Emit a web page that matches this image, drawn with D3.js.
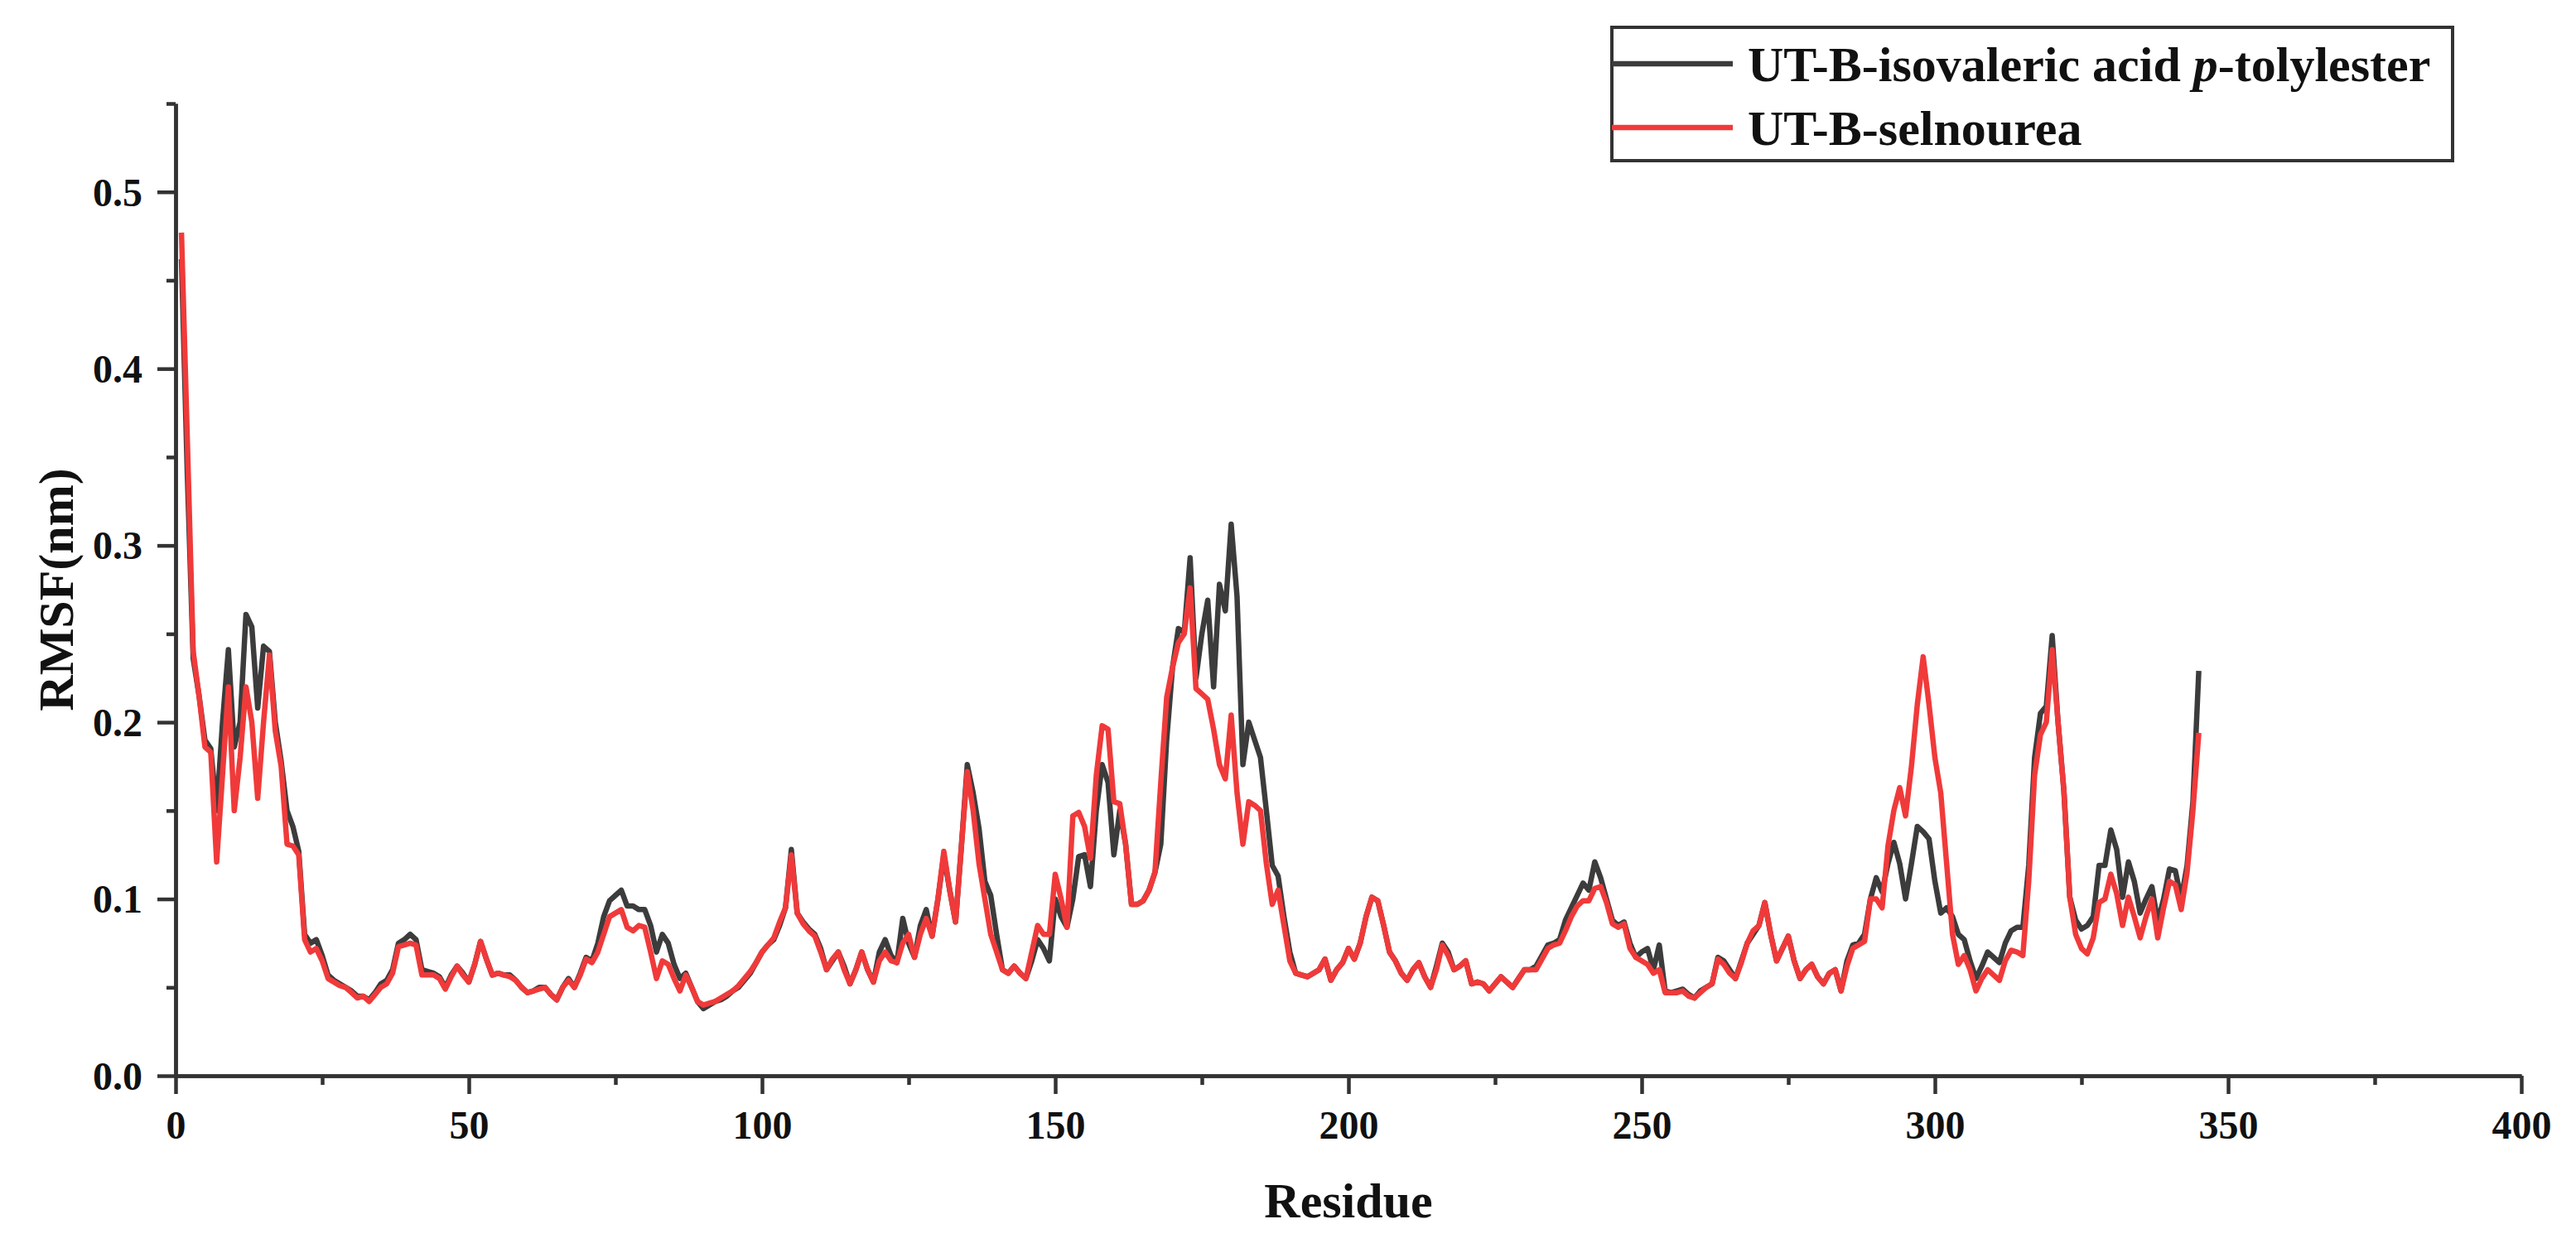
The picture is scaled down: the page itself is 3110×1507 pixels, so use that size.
<!DOCTYPE html>
<html>
<head>
<meta charset="utf-8">
<script src="https://cdn.jsdelivr.net/npm/d3@7"></script>
<style>
html, body { margin: 0; padding: 0; background: #fff; }
svg { display: block; }
text { font-family: "Liberation Serif", "Times New Roman", serif; font-weight: bold; fill: #111; }
</style>
</head>
<body>
<svg id="chart" width="3110" height="1507"></svg>
<script>
// ---- data ----
const seriesNames = ["UT-B-isovaleric acid p-tolylester", "UT-B-selnourea"];
const xTicksMajor = [0, 50, 100, 150, 200, 250, 300, 350, 400];
const xTicksMinor = [25, 75, 125, 175, 225, 275, 325, 375];
const yTicksMajor = [0.0, 0.1, 0.2, 0.3, 0.4, 0.5];
const yTicksMinor = [0.05, 0.15, 0.25, 0.35, 0.45, 0.55];
const yTickLabels = ["0.0", "0.1", "0.2", "0.3", "0.4", "0.5"];

const blackValues = [
0.462,0.34,0.236,0.215,0.19,0.185,0.15,0.2,0.241,0.186,
0.2,0.261,0.254,0.208,0.243,0.24,0.2,0.178,0.15,0.141,
0.127,0.08,0.075,0.077,0.068,0.057,0.054,0.052,0.05,0.048,
0.045,0.045,0.043,0.047,0.052,0.054,0.06,0.075,0.077,0.08,
0.077,0.06,0.059,0.058,0.056,0.05,0.057,0.062,0.058,0.053,
0.063,0.076,0.066,0.057,0.058,0.057,0.057,0.054,0.05,0.047,
0.048,0.05,0.05,0.046,0.043,0.05,0.055,0.05,0.058,0.067,
0.065,0.075,0.09,0.099,0.102,0.105,0.096,0.096,0.094,0.094,
0.085,0.07,0.08,0.075,0.063,0.055,0.058,0.05,0.042,0.038,
0.04,0.042,0.043,0.045,0.048,0.05,0.054,0.058,0.064,0.07,
0.074,0.077,0.085,0.095,0.128,0.092,0.087,0.083,0.08,0.072,
0.06,0.065,0.07,0.062,0.052,0.06,0.07,0.06,0.053,0.07,
0.077,0.068,0.064,0.089,0.075,0.067,0.085,0.094,0.079,0.1,
0.125,0.105,0.087,0.13,0.176,0.16,0.14,0.11,0.102,0.08,
0.06,0.058,0.062,0.058,0.055,0.065,0.077,0.072,0.065,0.1,
0.09,0.084,0.1,0.124,0.125,0.107,0.15,0.176,0.166,0.125,
0.15,0.131,0.097,0.097,0.099,0.105,0.115,0.131,0.19,0.231,
0.253,0.251,0.293,0.225,0.25,0.269,0.22,0.278,0.263,0.312,
0.271,0.176,0.2,0.19,0.18,0.15,0.119,0.113,0.09,0.07,
0.058,0.057,0.056,0.058,0.06,0.066,0.054,0.06,0.064,0.072,
0.066,0.075,0.09,0.101,0.099,0.085,0.07,0.065,0.058,0.054,
0.06,0.064,0.056,0.05,0.062,0.075,0.07,0.06,0.062,0.065,
0.052,0.053,0.052,0.048,0.052,0.056,0.053,0.05,0.055,0.06,
0.06,0.062,0.068,0.074,0.075,0.077,0.088,0.095,0.102,0.109,
0.105,0.121,0.112,0.1,0.088,0.085,0.087,0.075,0.067,0.07,
0.072,0.06,0.074,0.048,0.047,0.048,0.049,0.046,0.044,0.048,
0.05,0.052,0.067,0.065,0.06,0.055,0.065,0.075,0.08,0.085,
0.098,0.08,0.065,0.072,0.079,0.065,0.055,0.06,0.063,0.056,
0.052,0.058,0.06,0.048,0.065,0.074,0.075,0.08,0.1,0.112,
0.104,0.12,0.132,0.12,0.1,0.12,0.141,0.138,0.134,0.11,
0.092,0.095,0.09,0.08,0.077,0.065,0.055,0.062,0.07,0.067,
0.064,0.075,0.082,0.084,0.084,0.119,0.18,0.205,0.209,0.249,
0.2,0.161,0.101,0.088,0.083,0.085,0.09,0.119,0.119,0.139,
0.128,0.101,0.121,0.11,0.092,0.1,0.107,0.087,0.1,0.117,
0.116,0.1,0.119,0.155,0.229
];

const redValues = [
0.477,0.36,0.24,0.215,0.186,0.183,0.121,0.17,0.22,0.15,
0.18,0.22,0.2,0.157,0.2,0.238,0.195,0.175,0.131,0.13,
0.125,0.077,0.07,0.072,0.065,0.055,0.053,0.051,0.05,0.047,
0.044,0.045,0.042,0.046,0.05,0.052,0.058,0.073,0.074,0.075,
0.074,0.057,0.057,0.057,0.055,0.049,0.056,0.062,0.057,0.053,
0.063,0.076,0.066,0.057,0.058,0.057,0.056,0.054,0.05,0.047,
0.048,0.049,0.05,0.046,0.043,0.05,0.054,0.05,0.057,0.066,
0.064,0.07,0.08,0.09,0.092,0.094,0.084,0.082,0.085,0.084,
0.07,0.055,0.065,0.063,0.055,0.048,0.057,0.05,0.042,0.04,
0.041,0.042,0.044,0.046,0.048,0.051,0.055,0.059,0.064,0.07,
0.074,0.078,0.087,0.095,0.125,0.092,0.086,0.082,0.079,0.07,
0.06,0.066,0.07,0.06,0.052,0.06,0.07,0.06,0.053,0.065,
0.07,0.065,0.064,0.075,0.08,0.067,0.08,0.089,0.079,0.1,
0.127,0.105,0.087,0.13,0.172,0.15,0.12,0.1,0.08,0.07,
0.06,0.058,0.062,0.058,0.055,0.07,0.085,0.08,0.08,0.114,
0.1,0.084,0.147,0.149,0.141,0.123,0.17,0.198,0.196,0.155,
0.154,0.131,0.097,0.097,0.099,0.105,0.115,0.166,0.214,0.231,
0.245,0.25,0.276,0.219,0.216,0.213,0.196,0.176,0.168,0.204,
0.16,0.131,0.155,0.153,0.15,0.12,0.097,0.105,0.085,0.065,
0.058,0.057,0.056,0.058,0.06,0.066,0.054,0.06,0.064,0.072,
0.066,0.075,0.09,0.101,0.099,0.085,0.07,0.065,0.058,0.054,
0.06,0.064,0.056,0.05,0.06,0.074,0.068,0.06,0.062,0.065,
0.052,0.053,0.052,0.048,0.052,0.056,0.053,0.05,0.055,0.06,
0.06,0.06,0.066,0.072,0.074,0.075,0.082,0.09,0.096,0.099,
0.099,0.106,0.107,0.098,0.086,0.084,0.086,0.072,0.067,0.065,
0.063,0.058,0.06,0.047,0.047,0.047,0.048,0.045,0.044,0.047,
0.05,0.052,0.066,0.063,0.058,0.055,0.064,0.075,0.082,0.085,
0.098,0.08,0.065,0.072,0.079,0.065,0.055,0.06,0.063,0.056,
0.052,0.058,0.06,0.048,0.062,0.072,0.074,0.076,0.1,0.1,
0.095,0.13,0.15,0.163,0.147,0.175,0.21,0.237,0.21,0.18,
0.16,0.12,0.08,0.063,0.068,0.06,0.048,0.055,0.06,0.057,
0.054,0.065,0.071,0.07,0.068,0.11,0.17,0.193,0.2,0.241,
0.2,0.161,0.101,0.08,0.072,0.069,0.078,0.098,0.1,0.114,
0.103,0.085,0.101,0.09,0.078,0.09,0.1,0.078,0.095,0.11,
0.108,0.094,0.115,0.15,0.194
];

const residues = blackValues.map((_, i) => i + 1);
const colors = ["#3c3c3c", "#f03a3a"];

// ---- layout ----
const svg = d3.select("#chart");
const plotLeft = 212, plotRight = 3044, plotBottom = 1299, plotTop = 125;
const x = d3.scaleLinear().domain([0, 400]).range([plotLeft, plotRight]);
const y = d3.scaleLinear().domain([0, 0.55]).range([plotBottom, plotTop]);

const axisColor = "#333";
const fontTick = 48;

// lines
const line = d3.line().x((d, i) => x(residues[i])).y(d => y(d)).curve(d3.curveLinear);
[blackValues, redValues].forEach((vals, k) => {
  svg.append("path")
    .attr("d", line(vals))
    .attr("fill", "none")
    .attr("stroke", colors[k])
    .attr("stroke-width", 6.5)
    .attr("stroke-linejoin", "round")
    .attr("stroke-linecap", "butt");
});

// axes
function styleAxis(g) {
  g.selectAll("path.domain").attr("stroke", axisColor).attr("stroke-width", 4.5);
  g.selectAll(".tick line").attr("stroke", axisColor).attr("stroke-width", 4.5);
}

const gxMinor = svg.append("g").attr("transform", `translate(0,${plotBottom})`)
  .call(d3.axisBottom(x).tickValues(xTicksMinor).tickSize(11).tickSizeOuter(0).tickFormat(""));
styleAxis(gxMinor);
const gx = svg.append("g").attr("transform", `translate(0,${plotBottom})`)
  .call(d3.axisBottom(x).tickValues(xTicksMajor).tickSize(22).tickSizeOuter(0).tickFormat(d3.format("d")));
styleAxis(gx);
gx.selectAll(".tick text").attr("y", 76).attr("dy", null)
  .style("font-size", fontTick + "px").attr("fill", "#111");

const gyMinor = svg.append("g").attr("transform", `translate(${plotLeft},0)`)
  .call(d3.axisLeft(y).tickValues(yTicksMinor).tickSize(11).tickSizeOuter(0).tickFormat(""));
styleAxis(gyMinor);
const gy = svg.append("g").attr("transform", `translate(${plotLeft},0)`)
  .call(d3.axisLeft(y).tickValues(yTicksMajor).tickSize(22).tickSizeOuter(0)
    .tickFormat((d, i) => yTickLabels[i]).tickPadding(18));
styleAxis(gy);
gy.selectAll(".tick text").attr("dy", "0.34em")
  .style("font-size", fontTick + "px").attr("fill", "#111");

// axis titles
svg.append("text")
  .attr("x", (plotLeft + plotRight) / 2).attr("y", 1470)
  .attr("text-anchor", "middle")
  .style("font-size", "60px")
  .text("Residue");
svg.append("text")
  .attr("transform", `translate(88,${(plotTop + plotBottom) / 2}) rotate(-90)`)
  .attr("text-anchor", "middle")
  .style("font-size", "60px")
  .text("RMSF(nm)");

// legend
const lg = svg.append("g");
lg.append("rect")
  .attr("x", 1946).attr("y", 33).attr("width", 1015).attr("height", 161)
  .attr("fill", "#fff").attr("stroke", axisColor).attr("stroke-width", 4);
const legRows = [77, 154];
seriesNames.forEach((name, k) => {
  lg.append("line")
    .attr("x1", 1946).attr("x2", 2092)
    .attr("y1", legRows[k]).attr("y2", legRows[k])
    .attr("stroke", colors[k]).attr("stroke-width", 6.5);
  const t = lg.append("text")
    .attr("x", 2110).attr("y", legRows[k] + 21)
    .style("font-size", "60px");
  if (name.indexOf(" p-") >= 0) {
    const parts = name.split(" p-");
    t.append("tspan").text(parts[0] + " ");
    t.append("tspan").style("font-style", "italic").text("p");
    t.append("tspan").text("-" + parts[1]);
  } else {
    t.text(name);
  }
});
</script>
</body>
</html>
